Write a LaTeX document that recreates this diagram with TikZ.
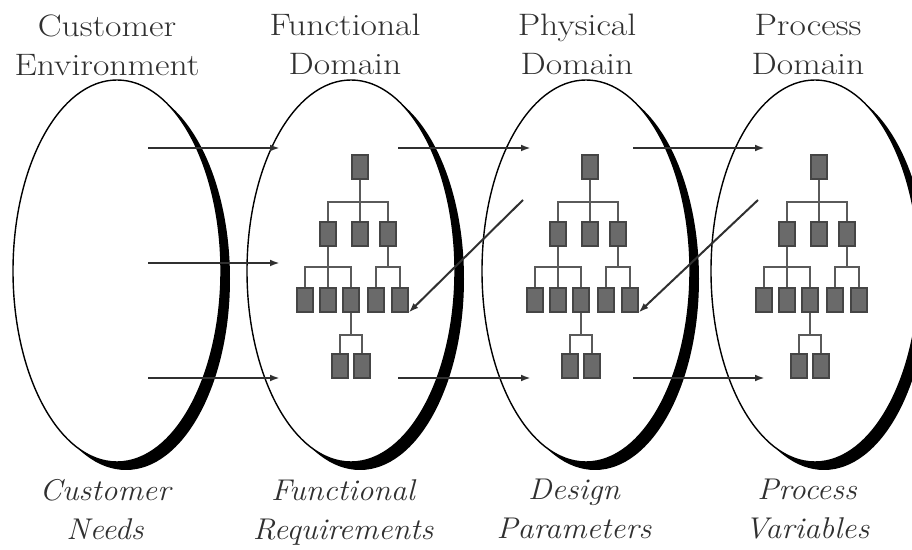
\documentclass[tikz,border=0pt]{standalone}
\usepackage{fontspec}
\newfontfamily\headfont{Latin Modern Roman}[FakeStretch=1.15]
\newfontfamily\subfont{Latin Modern Roman}[FakeStretch=1.06]
\usetikzlibrary{arrows.meta,positioning,calc}
\definecolor{axink}{HTML}{303030}
\definecolor{axbox}{HTML}{6A6A6A}
\definecolor{axedge}{HTML}{454545}
\definecolor{axlink}{HTML}{5A5A5A}

\begin{document}
\begin{tikzpicture}[
  x=0.5pt, y=-0.5pt,
  title/.style={font=\headfont\fontsize{15.5}{19.5}\selectfont, text=axink, align=center, inner sep=0pt, anchor=north},
  sub/.style={font=\subfont\itshape\fontsize{15}{19.5}\selectfont, text=axink, align=center, inner sep=0pt, anchor=north},
  blk/.style={draw=axedge, fill=axbox, line width=0.6pt, minimum width=8pt, minimum height=12pt, inner sep=0pt},
  link/.style={draw=axlink, line width=0.75pt},
  arr/.style={-{Latex[length=5pt,width=3.4pt]}, line width=1pt, axink},
  rim/.style={draw=black, line width=0.7pt}
]
\useasboundingbox (0,0) rectangle (912,550);

% domains
\foreach \n/\cx in {ce/117, fd/351, pd/586, pr/815} {
  \fill[black] (\cx+9,279) ellipse [x radius=52pt, y radius=95.5pt];
  \fill[white] (\cx,271) ellipse [x radius=52pt, y radius=95.5pt];
  \draw[rim] (\cx,271) ellipse [x radius=52pt, y radius=95.5pt];
  \coordinate (\n) at (\cx,271);
}

% headings
\node[title] (ceT) at (107,14) {Customer\\Environment};
\node[title] (fdT) at (345,14) {Functional\\Domain};
\node[title] (pdT) at (577,14) {Physical\\Domain};
\node[title] (prT) at (808,14) {Process\\Domain};
\node[sub] (ceS) at (105,479) {Customer\\Needs};
\node[sub] (fdS) at (343,479) {Functional\\Requirements};
\node[sub] (pdS) at (574,479) {Design\\Parameters};
\node[sub] (prS) at (807,479) {Process\\Variables};

% hierarchies
\foreach \t/\rx in {fr/360, dp/590, pv/819} {
  \node[blk] (\t0) at (\rx,167) {};
  \node[blk] (\t1) at (\rx-32,234) {};
  \node[blk] (\t2) at (\rx,234) {};
  \node[blk] (\t3) at (\rx+28,234) {};
  \node[blk] (\t4) at (\rx-55,300) {};
  \node[blk] (\t5) at (\rx-32,300) {};
  \node[blk] (\t6) at (\rx-9,300) {};
  \node[blk] (\t7) at (\rx+16,300) {};
  \node[blk] (\t8) at (\rx+40,300) {};
  \node[blk] (\t9) at (\rx-20,366) {};
  \node[blk] (\t10) at (\rx+2,366) {};
  \draw[link] (\t0.south) -- (\t2.north);
  \draw[link] (\t1.north) |- (\t0.south |- 0,202) -| (\t3.north);
  \draw[link] (\t1.south) -- (\t5.north);
  \draw[link] (\t4.north) |- (\t5.north |- 0,267) -| (\t6.north);
  \draw[link] (\t3.south) -- (\t3.south |- 0,267);
  \draw[link] (\t7.north) |- (\t3.south |- 0,267) -| (\t8.north);
  \draw[link] (\t6.south) -- (\t6.south |- 0,335);
  \draw[link] (\t9.north) |- (\t6.south |- 0,335) -| (\t10.north);
}

% mappings
\foreach \y in {148, 263, 378} {
  \coordinate (a\y) at (148,\y);
  \coordinate (b\y) at (280,\y);
  \draw[arr] (a\y) -- (b\y);
}
\foreach \y in {148, 378} {
  \coordinate (c\y) at (398,\y);
  \coordinate (d\y) at (531,\y);
  \coordinate (e\y) at (633,\y);
  \coordinate (f\y) at (765,\y);
  \draw[arr] (c\y) -- (d\y);
  \draw[arr] (e\y) -- (f\y);
}
\coordinate (zig1) at (523,200);
\coordinate (zig2) at (758,200);
\draw[arr] (zig1) -- (fr8.south east);
\draw[arr] (zig2) -- (dp8.south east);
\end{tikzpicture}
\end{document}
